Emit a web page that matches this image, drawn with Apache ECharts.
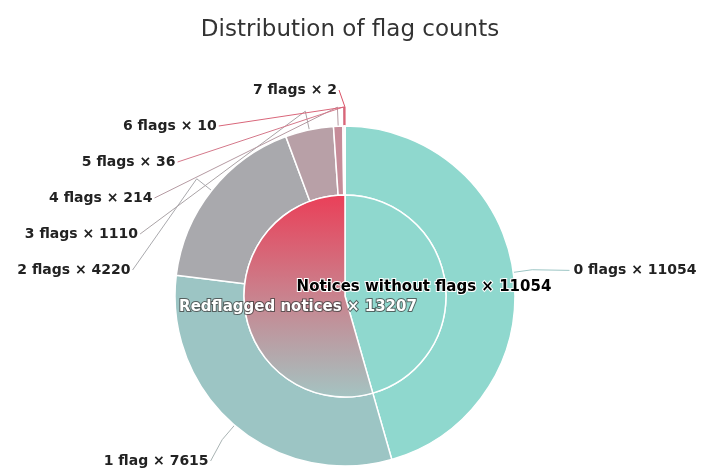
<!DOCTYPE html>
<html>
<head>
<meta charset="utf-8">
<script src="https://cdn.jsdelivr.net/npm/echarts@6/dist/echarts.min.js"></script>
<style>html,body{margin:0;padding:0;background:#fff}#c{width:702px;height:468px}</style>
</head>
<body>
<div id="c"></div>
<script>
var innerNames = ['Notices without flags', 'Redflagged notices'];
var innerValues = [11054, 13207];
var outerNames = ['0 flags', '1 flag', '2 flags', '3 flags', '4 flags', '5 flags', '6 flags', '7 flags'];
var outerValues = [11054, 7615, 4220, 1110, 214, 36, 10, 2];

var outerColors = ['#8fd8ce', '#9cc5c4', '#a9a9ad', '#b8a0a7', '#c68c99', '#d4788a', '#dd6276', '#e44a5f'];
var lineColors = ['#9cc5c4', '#a9b3b3', '#a9a9ad', '#aaa3a6', '#b59aa2', '#d4788a', '#d9667a', '#d95266'];

var CX = 345, CY = 296, R_IN = 101, R_OUT = 170;
var LABEL_R = 216, BEND_R = 189, STEP = 36;

// mid-angles of outer slices (clockwise from 12 o'clock)
var total = outerValues.reduce(function (a, b) { return a + b; }, 0);
var mids = [], cum = 0;
outerValues.forEach(function (v) { mids.push((cum + v / 2) / total * 2 * Math.PI); cum += v; });

function edgePt(a, r) { return [CX + r * Math.sin(a), CY - r * Math.cos(a)]; }

var chart = echarts.init(document.getElementById('c'));
var font = 'DejaVu Sans';
chart.setOption({
  animation: false,
  title: {
    text: 'Distribution of flag counts',
    left: CX, textAlign: 'center', top: 14,
    textStyle: { fontFamily: font, fontSize: 23, fontWeight: 'normal', color: '#333' }
  },
  series: [
    {
      type: 'pie', center: [CX, CY], radius: [0, R_IN],
      startAngle: 90, clockwise: true, z: 3,
      itemStyle: { borderColor: '#fff', borderWidth: 1.5 },
      label: {
        position: 'inside', fontFamily: font, fontSize: 15, fontWeight: 'bold',
        formatter: function (p) { return p.name + ' \u00d7 ' + p.value; }
      },
      labelLayout: function (p) {
        return p.dataIndex === 0 ? { dx: 26, dy: -1 } : { dx: 6, dy: 4 };
      },
      data: innerNames.map(function (n, i) {
        var item = { name: n, value: innerValues[i] };
        if (i === 0) {
          item.itemStyle = { color: '#8fd8ce' };
          item.label = { color: '#000', textBorderColor: '#fff', textBorderWidth: 2 };
        } else {
          item.itemStyle = { color: new echarts.graphic.LinearGradient(0, 0, 0, 1, [
            { offset: 0, color: '#ea3f58' }, { offset: 0.45, color: '#cd7b88' }, { offset: 1, color: '#a4c4c2' }
          ]) };
          item.label = { color: '#fff', textBorderColor: 'rgba(60,60,60,0.75)', textBorderWidth: 2 };
        }
        return item;
      })
    },
    {
      type: 'pie', center: [CX, CY], radius: [R_IN, R_OUT],
      startAngle: 90, clockwise: true,
      itemStyle: { borderColor: '#fff', borderWidth: 1.5 },
      label: {
        fontFamily: font, fontSize: 14, fontWeight: 'bold', color: '#222',
        formatter: function (p) { return p.name + ' \u00d7 ' + p.value; }
      },
      labelLine: { length: 20, length2: 30, smooth: false },
      labelLayout: function (p) {
        var i = p.dataIndex, a = mids[i];
        var e = edgePt(a, R_OUT), b = edgePt(a, BEND_R);
        var y, x, align, endX;
        if (i === 0) {
          y = e[1] - 2;
          var d0 = Math.sqrt(LABEL_R * LABEL_R - (y - CY) * (y - CY));
          x = CX + d0 + 14; align = 'left'; endX = x - 4;
        } else if (i === 1) {
          y = 461;
          x = CX - Math.sqrt(LABEL_R * LABEL_R - (y - CY) * (y - CY)) + 3; align = 'right'; endX = x + 2;
        } else {
          y = 270 - (i - 2) * STEP;
          var dy = y - CY;
          var d = Math.abs(dy) < LABEL_R - 12 ? Math.sqrt(LABEL_R * LABEL_R - dy * dy) : 8;
          if (i === 6) d -= 5;
          x = CX - d; align = 'right'; endX = x + 2;
        }
        return {
          x: x, y: y, align: align, verticalAlign: 'middle',
          labelLinePoints: [e, b, [endX, y]]
        };
      },
      data: outerNames.map(function (n, i) {
        return { name: n, value: outerValues[i], itemStyle: { color: outerColors[i] },
          labelLine: { lineStyle: { color: lineColors[i], width: 1 } } };
      })
    }
  ]
});
</script>
</body>
</html>
